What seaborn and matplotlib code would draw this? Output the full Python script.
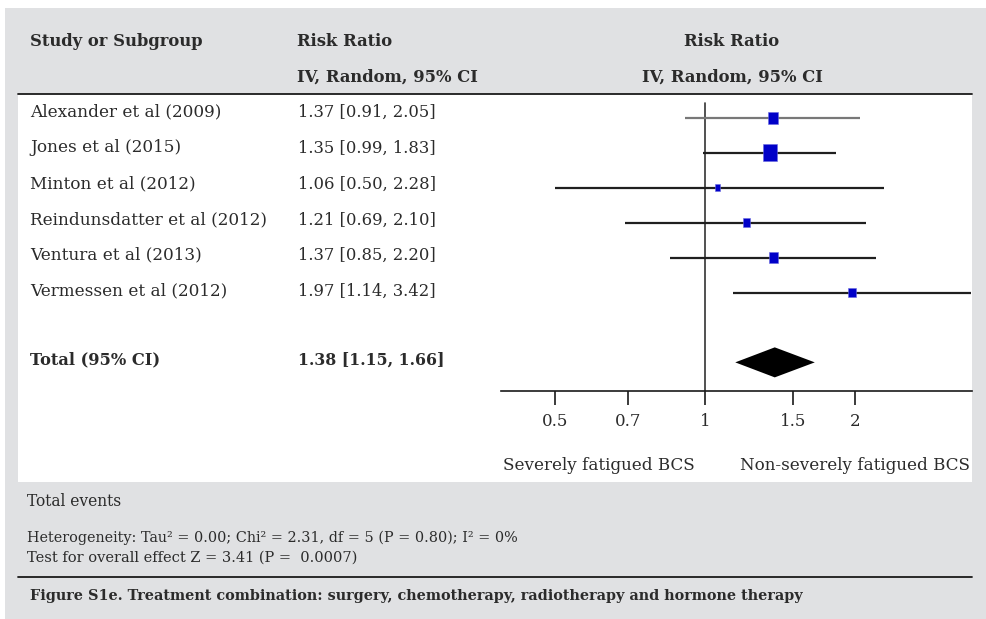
import numpy as np
import pandas as pd
import matplotlib
matplotlib.use("Agg")
import matplotlib.pyplot as plt
import seaborn as sns
from matplotlib.patches import Rectangle
from matplotlib.lines import Line2D
from matplotlib.path import Path

# ---------------- data ----------------
studies = ["Alexander et al (2009)", "Jones et al (2015)", "Minton et al (2012)",
           "Reindunsdatter et al (2012)", "Ventura et al (2013)", "Vermessen et al (2012)"]
rr = [1.37, 1.35, 1.06, 1.21, 1.37, 1.97]
ci_low = [0.91, 0.99, 0.50, 0.69, 0.85, 1.14]
ci_high = [2.05, 1.83, 2.28, 2.10, 2.20, 3.42]
weights = [20.7, 36.1, 5.9, 11.0, 15.1, 11.3]
total_label = "Total (95% CI)"
total_rr = 1.38
total_low = 1.15
total_high = 1.66
tick_values = [0.5, 0.7, 1, 1.5, 2]
tick_labels = ["0.5", "0.7", "1", "1.5", "2"]

# ---------------- style ----------------
sns.set_style("white")
plt.rcParams["font.family"] = ["DejaVu Serif", "DejaVu Sans"]
TXT = "#2b2b2b"
GREY = "#e0e1e3"

W, H = 987, 619
fig = plt.figure(figsize=(W / 100, H / 100), dpi=100)
fig.patch.set_facecolor("white")


def fx(px):
    return px / W


def fy(py):
    return 1 - py / H


# background panels
fig.patches.append(Rectangle((fx(5), fy(H)), fx(W - 5), (H - 8) / H,
                             transform=fig.transFigure, facecolor=GREY, edgecolor="none", zorder=-20))
fig.patches.append(Rectangle((fx(18), fy(482)), fx(972 - 18), (482 - 94) / H,
                             transform=fig.transFigure, facecolor="white", edgecolor="none", zorder=-10))
# rules
fig.lines.append(Line2D([fx(18), fx(972)], [fy(93.5), fy(93.5)], transform=fig.transFigure,
                        color="#1a1a1a", lw=1.3))
fig.lines.append(Line2D([fx(18), fx(972)], [fy(577), fy(577)], transform=fig.transFigure,
                        color="#1a1a1a", lw=1.3))

# headers
HFS = 11.8
fig.text(fx(30), fy(42), "Study or Subgroup", fontsize=HFS, fontweight="bold", color=TXT, va="center")
fig.text(fx(297), fy(42), "Risk Ratio", fontsize=HFS, fontweight="bold", color=TXT, va="center")
fig.text(fx(297), fy(77), "IV, Random, 95% CI", fontsize=HFS, fontweight="bold", color=TXT, va="center")
fig.text(fx(732), fy(42), "Risk Ratio", fontsize=HFS, fontweight="bold", color=TXT, va="center", ha="center")
fig.text(fx(732), fy(77), "IV, Random, 95% CI", fontsize=HFS, fontweight="bold", color=TXT, va="center", ha="center")

# ---------------- forest axes ----------------
ax = fig.add_axes([fx(501), fy(391), fx(972 - 501), (391 - 97) / H])
ax.set_facecolor("none")
rows = list(range(len(studies)))
total_row = len(studies) + 1
ylim = (7.82, -0.6)

df = pd.DataFrame({"study": studies, "rr": rr, "lo": ci_low, "hi": ci_high,
                   "w": weights, "row": rows})

ax.set_xscale("log")
ax.set_xlim(0.39, 3.43)
ax.set_ylim(*ylim)

# null line
ax.plot([1, 1], [ylim[0], -0.43], color="#333333", lw=1.2, zorder=2)

# CI lines
line_cols = ["#787878"] + ["#1f1f1f"] * (len(studies) - 1)
for i, r in df.iterrows():
    ax.plot([r.lo, r.hi], [r.row, r.row], color=line_cols[i], lw=1.6, zorder=3,
            solid_capstyle="butt")

# squares sized by weight
rect_marker = Path([(-0.4, -0.5), (0.4, -0.5), (0.4, 0.5), (-0.4, 0.5), (-0.4, -0.5)],
                   [Path.MOVETO, Path.LINETO, Path.LINETO, Path.LINETO, Path.CLOSEPOLY])
sns.scatterplot(data=df, x="rr", y="row", size="w", sizes=(0, 150), size_norm=(0, max(weights)),
                marker=rect_marker, color="#0000c8", edgecolor="#6a6ae0", linewidth=0.4,
                legend=False, ax=ax, zorder=4)

# diamond
ax.fill([total_low, total_rr, total_high, total_rr],
        [total_row, total_row - 0.43, total_row, total_row + 0.43],
        color="black", lw=0, zorder=4)

ax.set_xticks(tick_values)
ax.set_xticklabels(tick_labels)
ax.xaxis.set_minor_locator(matplotlib.ticker.NullLocator())
ax.set_yticks([])
ax.set_xlabel("")
ax.set_ylabel("")
for s in ["top", "left", "right"]:
    ax.spines[s].set_visible(False)
ax.spines["bottom"].set_color("#1a1a1a")
ax.spines["bottom"].set_linewidth(1.2)
ax.tick_params(axis="x", direction="out", length=10, width=1.2, color="#1a1a1a",
               labelsize=12, labelcolor=TXT, pad=6, bottom=True)

# ---------------- table text ----------------
row_px = [112, 148, 184, 220, 255, 291]
for name, v, lo, hi, py in zip(studies, rr, ci_low, ci_high, row_px):
    fig.text(fx(30), fy(py), name, fontsize=12.2, color=TXT, va="center")
    fig.text(fx(298), fy(py), f"{v:.2f} [{lo:.2f}, {hi:.2f}]", fontsize=11.8, color=TXT, va="center")
fig.text(fx(30), fy(360), total_label, fontsize=11.7, fontweight="bold", color=TXT, va="center")
fig.text(fx(298), fy(360), f"{total_rr:.2f} [{total_low:.2f}, {total_high:.2f}]",
         fontsize=11.3, fontweight="bold", color=TXT, va="center")

# favours labels
fig.text(fx(503), fy(465), "Severely fatigued BCS", fontsize=12.1, color=TXT, va="center")
fig.text(fx(970), fy(465), "Non-severely fatigued BCS", fontsize=12.1, color=TXT, va="center", ha="right")

# footer
fig.text(fx(27), fy(502), "Total events", fontsize=11.2, color=TXT, va="center")
fig.text(fx(27), fy(538), "Heterogeneity: Tau² = 0.00; Chi² = 2.31, df = 5 (P = 0.80); I² = 0%",
         fontsize=10.4, color=TXT, va="center")
fig.text(fx(27), fy(558), "Test for overall effect Z = 3.41 (P =  0.0007)", fontsize=10.5, color=TXT, va="center")
fig.text(fx(30), fy(596), "Figure S1e. Treatment combination: surgery, chemotherapy, radiotherapy and hormone therapy",
         fontsize=10.4, fontweight="bold", color=TXT, va="center")

fig.savefig("out.png", dpi=100, facecolor=fig.get_facecolor())
